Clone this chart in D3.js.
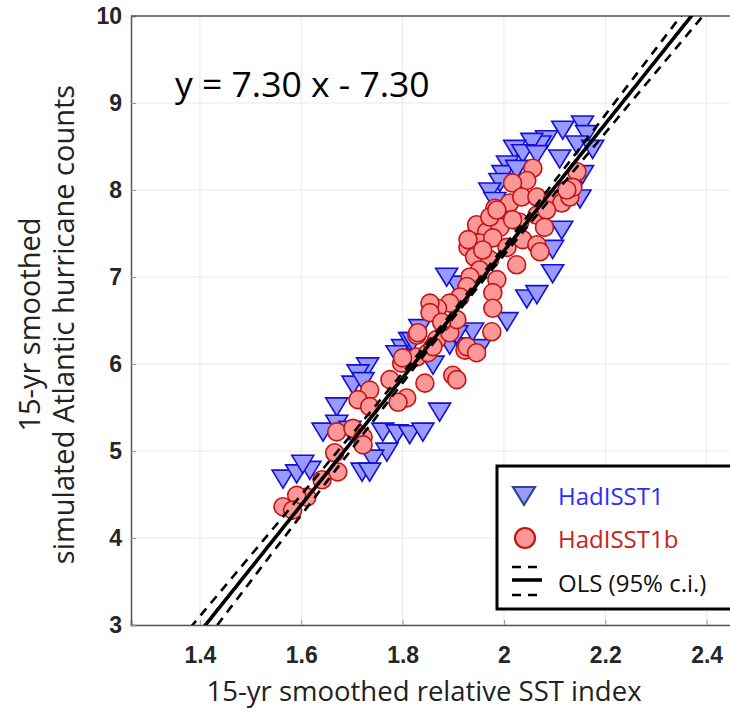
<!DOCTYPE html>
<html>
<head>
<meta charset="utf-8">
<script src="https://cdnjs.cloudflare.com/ajax/libs/d3/7.8.5/d3.min.js"></script>
<style>
  body { margin: 0; background: #fff; }
</style>
</head>
<body>
<div id="chart"></div>
<script>
// HadISST1 (triangles) -- SST index, hurricane count
const hadX = [1.731, 1.712, 1.702, 1.722, 1.670, 1.643, 1.670, 1.696, 1.761, 1.789, 1.814, 1.840, 1.873,
    1.769, 1.741, 1.720, 1.735, 1.564, 1.591, 1.617, 1.603, 1.800, 1.814, 1.893, 1.919, 1.860,
    2.116, 2.155, 2.163, 2.084, 2.071, 2.055, 2.021, 2.037, 2.065, 2.110, 2.144, 2.007, 1.998, 1.992,
    2.025, 2.155, 2.175, 2.150, 2.114, 2.096, 2.096, 2.045, 2.065, 2.006, 1.907, 1.938, 1.907, 1.834,
    1.820, 1.789, 1.952, 1.972, 1.982, 1.887];
const hadY = [5.99, 5.91, 5.78, 5.82, 5.53, 5.24, 5.33, 5.26, 5.24, 5.22, 5.21, 5.24, 5.47,
    5.01, 4.93, 4.78, 4.78, 4.70, 4.76, 4.80, 4.87, 6.20, 6.28, 6.24, 6.22, 6.01,
    8.71, 8.77, 8.66, 8.60, 8.54, 8.57, 8.49, 8.44, 8.43, 8.38, 8.54, 8.31, 8.20, 8.11,
    8.26, 8.20, 8.49, 7.92, 7.56, 7.34, 7.06, 6.77, 6.82, 6.51, 6.93, 6.39, 6.36, 6.43,
    6.28, 6.13, 6.20, 8.00, 7.89, 7.02];

// HadISST1b (circles)
const hadbX = [1.735, 1.712, 1.735, 1.670, 1.702, 1.722, 1.722, 1.666, 1.672, 1.641, 1.611, 1.591, 1.564, 1.583,
    1.775, 1.798, 1.808, 1.791, 1.844, 1.828, 1.850, 1.899, 1.907, 1.923, 1.828, 1.867, 1.893,
    2.057, 2.144, 2.045, 2.017, 1.982, 2.011, 2.035, 2.065, 2.096, 2.114, 2.130, 2.136,
    1.946, 1.966, 1.992, 2.031, 2.065, 2.084, 2.080, 1.929, 1.952, 1.978, 2.006, 2.037, 2.065, 2.071,
    1.942, 1.972, 2.025, 1.952, 1.933, 1.986, 1.978, 1.927, 1.913, 1.978, 1.893, 1.869, 1.854, 1.854,
    1.907, 1.877, 1.830, 1.976, 1.927, 1.946, 1.860, 1.800,
    1.972, 1.986, 2.017, 1.929, 1.958, 2.124];
const hadbY = [5.70, 5.59, 5.51, 5.22, 5.26, 5.16, 5.07, 4.98, 4.76, 4.67, 4.47, 4.49, 4.36, 4.32,
    5.82, 6.01, 5.61, 5.56, 5.78, 6.08, 6.13, 5.87, 5.82, 6.16, 6.33, 6.28, 6.36,
    8.25, 8.21, 8.11, 8.08, 7.79, 7.85, 7.92, 7.92, 7.89, 7.85, 7.92, 8.03,
    7.60, 7.52, 7.57, 7.63, 7.71, 7.77, 7.57, 7.34, 7.39, 7.45, 7.34, 7.43, 7.37, 7.29,
    7.23, 7.20, 7.14, 7.08, 7.00, 6.97, 6.82, 6.89, 6.77, 6.64, 6.70, 6.64, 6.70, 6.59,
    6.51, 6.48, 6.36, 6.37, 6.20, 6.13, 6.20, 6.07,
    7.69, 7.77, 7.66, 7.43, 7.31, 8.00];

// OLS fit and its 95% confidence band
const fitSlope = 7.30;
const fitIntercept = -7.30;
const ciCenterX = 1.92;
const ciHalfMin = 0.04;
const ciSpread = 0.34;

const xTicks = [1.4, 1.6, 1.8, 2, 2.2, 2.4];
const yTicks = [3, 4, 5, 6, 7, 8, 9, 10];
const legendNames = ["HadISST1", "HadISST1b", "OLS (95% c.i.)"];

const W = 730, H = 711;
const plot = {l: 131, t: 16, r: 732, b: 625};

const svg = d3.select("#chart").append("svg")
    .attr("width", W)
    .attr("height", H)
    .style("font-family", "'Open Sans', sans-serif");

const x = d3.scaleLinear().domain([1.264, 2.45]).range([plot.l, plot.r]);
const y = d3.scaleLinear().domain([3, 10]).range([plot.b, plot.t]);

svg.append("defs").append("clipPath").attr("id", "clip")
    .append("rect")
    .attr("x", plot.l).attr("y", plot.t)
    .attr("width", plot.r - plot.l).attr("height", plot.b - plot.t);

// grid
let grid = svg.append("g");
grid.selectAll(".gx").data(xTicks).enter().append("line")
    .attr("x1", d => x(d)).attr("x2", d => x(d))
    .attr("y1", plot.t).attr("y2", plot.b)
    .attr("stroke", "#e8e8e8").attr("stroke-width", 1);
grid.selectAll(".gy").data(yTicks).enter().append("line")
    .attr("x1", plot.l).attr("x2", plot.r)
    .attr("y1", d => y(d)).attr("y2", d => y(d))
    .attr("stroke", "#e8e8e8").attr("stroke-width", 1);

// axes
const xAxis = d3.axisBottom(x).tickValues(xTicks).tickSize(-5).tickPadding(22).tickFormat(d3.format("~g"));
const yAxis = d3.axisLeft(y).tickValues(yTicks).tickSize(-5).tickPadding(9).tickFormat(d3.format("~g"));

function styleAxis(g) {
    g.select(".domain").attr("stroke", "#555").attr("stroke-width", 1.5);
    g.selectAll(".tick line").attr("stroke", "#999");
    g.selectAll(".tick text")
        .attr("fill", "#262626")
        .style("font-family", "'Liberation Sans', Arial, sans-serif")
        .style("font-weight", "bold")
        .style("font-size", "23px");
}

svg.append("g").attr("transform", `translate(0,${plot.b})`).call(xAxis).call(styleAxis);
svg.append("g").attr("transform", `translate(${plot.l},0)`).call(yAxis).call(styleAxis);
svg.append("line")
    .attr("x1", plot.l).attr("x2", plot.r)
    .attr("y1", plot.t).attr("y2", plot.t)
    .attr("stroke", "#555").attr("stroke-width", 1.5);

// markers
const tri = "M-11,-7L11,-7L0,11Z";
let marks = svg.append("g").attr("clip-path", "url(#clip)");
marks.selectAll(".tri").data(d3.range(hadX.length)).enter().append("path")
    .attr("d", tri)
    .attr("transform", i => `translate(${x(hadX[i])},${y(hadY[i])})`)
    .attr("fill", "#9a9afc")
    .attr("stroke", "#1010d8")
    .attr("stroke-width", 1.6);
marks.selectAll(".dot").data(d3.range(hadbX.length)).enter().append("circle")
    .attr("cx", i => x(hadbX[i]))
    .attr("cy", i => y(hadbY[i]))
    .attr("r", 9)
    .attr("fill", "#fb9797")
    .attr("stroke", "#c41414")
    .attr("stroke-width", 1.6);

// regression line and confidence band
const xs = d3.range(1.30, 2.46, 0.005);
const fit = v => fitIntercept + fitSlope * v;
const half = v => Math.sqrt(ciHalfMin * ciHalfMin + Math.pow(ciSpread * (v - ciCenterX), 2));
const line = d3.line().x(d => x(d[0])).y(d => y(d[1]));
let fitG = svg.append("g").attr("clip-path", "url(#clip)");
[-1, 1].forEach(s => {
    fitG.append("path")
        .attr("d", line(xs.map(v => [v, fit(v) + s * half(v)])))
        .attr("fill", "none")
        .attr("stroke", "#000")
        .attr("stroke-width", 2.6)
        .attr("stroke-dasharray", "9,7");
});
fitG.append("path")
    .attr("d", line(xs.map(v => [v, fit(v)])))
    .attr("fill", "none")
    .attr("stroke", "#000")
    .attr("stroke-width", 3.6);

// equation
svg.append("text")
    .attr("x", 175).attr("y", 97)
    .style("font-size", "35.5px")
    .attr("fill", "#000")
    .text(`y = ${fitSlope.toFixed(2)} x - ${Math.abs(fitIntercept).toFixed(2)}`);

// axis labels
svg.append("text")
    .attr("x", 424).attr("y", 701)
    .attr("text-anchor", "middle")
    .style("font-size", "27.5px")
    .attr("fill", "#222")
    .text("15-yr smoothed relative SST index");
let yl = svg.append("g").attr("transform", `translate(0,${(plot.t + plot.b) / 2 + 4}) rotate(-90)`);
yl.append("text").attr("x", 0).attr("y", 40)
    .attr("text-anchor", "middle").style("font-size", "29px").attr("fill", "#222")
    .text("15-yr smoothed");
yl.append("text").attr("x", 0).attr("y", 74)
    .attr("text-anchor", "middle").style("font-size", "29px").attr("fill", "#222")
    .text("simulated Atlantic hurricane counts");

// legend
let lg = svg.append("g");
lg.append("rect")
    .attr("x", 497).attr("y", 466)
    .attr("width", 245).attr("height", 143)
    .attr("fill", "#fff").attr("stroke", "#000").attr("stroke-width", 3);
lg.append("path").attr("d", tri)
    .attr("transform", "translate(524,494)")
    .attr("fill", "#9a9afc").attr("stroke", "#2a4a8a").attr("stroke-width", 2.2);
lg.append("circle").attr("cx", 525).attr("cy", 538).attr("r", 10)
    .attr("fill", "#fb9797").attr("stroke", "#c41414").attr("stroke-width", 2.2);
[[567, true], [580, false], [595, true]].forEach(([yy, dashed]) => {
    lg.append("line")
        .attr("x1", 512).attr("x2", 542)
        .attr("y1", yy).attr("y2", yy)
        .attr("stroke", "#000")
        .attr("stroke-width", dashed ? 2.6 : 3.6)
        .attr("stroke-dasharray", dashed ? "9,7" : null);
});
const legendColors = ["#2b2bff", "#c82020", "#111"];
const legendBase = [505, 548, 592];
legendNames.forEach((n, i) => {
    lg.append("text")
        .attr("x", 558).attr("y", legendBase[i])
        .style("font-size", "24px")
        .attr("fill", legendColors[i])
        .text(n);
});
</script>
</body>
</html>
